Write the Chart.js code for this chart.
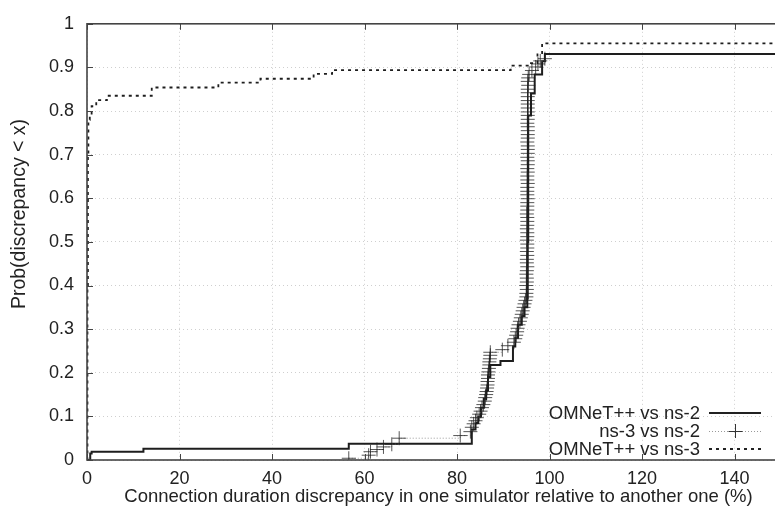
<!DOCTYPE html>
<html>
<head>
<meta charset="utf-8">
<script src="https://cdn.jsdelivr.net/npm/chart.js@4"></script>
<style>
html,body{margin:0;padding:0;background:#fff;overflow:hidden;width:775px;height:512px;}
canvas{display:block;}
</style>
</head>
<body>
<canvas id="c" width="800" height="512" style="width:800px;height:512px"></canvas>
<script>
// ---- data ----
const seriesNames = ["OMNeT++ vs ns-2", "ns-3 vs ns-2", "OMNeT++ vs ns-3"];
const xTitle = 'Connection duration discrepancy in one simulator relative to another one (%)';
const yTitle = 'Prob(discrepancy < x)';
const xTicks = [0, 20, 40, 60, 80, 100, 120, 140];
const yTicks = [0, 0.1, 0.2, 0.3, 0.4, 0.5, 0.6, 0.7, 0.8, 0.9, 1];

const omnetNs2X = [0, 0.7, 1.0, 12.2, 56.6, 83.2, 84.0, 84.6, 85.2, 85.8, 86.3, 86.7, 87.2, 89.4, 92.1, 92.6, 93.2, 94.0, 94.6, 95.2, 95.3, 95.4, 95.4, 96.0, 96.8, 98.4, 99.0, 152];
const omnetNs2Y = [0, 0.015, 0.019, 0.026, 0.0375, 0.07, 0.085, 0.10, 0.12, 0.14, 0.16, 0.19, 0.218, 0.227, 0.26, 0.28, 0.31, 0.33, 0.35, 0.37, 0.50, 0.65, 0.79, 0.84, 0.884, 0.914, 0.931, 0.931];

const ns3Ns2X = [56.6, 60.9, 61.3, 62.7, 64.1, 65.9, 67.5, 80.7, 82.9, 83.2, 83.6, 84.0, 84.3, 84.8, 85.1, 85.4, 85.7, 86.0, 86.1, 86.3, 86.4, 86.5, 86.6, 86.6, 86.7, 86.7, 86.8, 86.9, 87.0, 87.0, 87.1, 87.2, 87.2, 89.8, 91.0, 92.3, 92.6, 92.8, 93.0, 93.1, 93.3, 93.6, 93.8, 94.0, 94.2, 94.4, 94.6, 94.8, 95.0,
  95.0, 95.1, 95.0, 95.1, 95.1, 95.0, 95.1, 95.2, 95.1, 95.1, 95.2, 95.1, 95.2, 95.2, 95.1, 95.2, 95.2, 95.1, 95.2, 95.2, 95.2, 95.1, 95.2, 95.2, 95.2, 95.3, 95.2, 95.2, 95.2, 95.3, 95.2, 95.2, 95.3, 95.2, 95.3, 95.3, 95.2, 95.3, 95.3, 95.3, 95.2, 95.3, 95.3, 95.3, 95.3, 95.2, 95.3, 95.3, 95.3, 95.3, 95.3, 95.3, 95.3, 95.3, 95.3, 95.4, 95.3, 95.4,
  95.6, 96.2, 97.0, 97.5, 98.0, 99.0];
const ns3Ns2Y = [0.004, 0.011, 0.019, 0.024, 0.030, 0.036, 0.050, 0.056, 0.065, 0.075, 0.083, 0.090, 0.097, 0.105, 0.112, 0.120, 0.127, 0.135, 0.143, 0.150, 0.157, 0.165, 0.172, 0.180, 0.187, 0.195, 0.202, 0.210, 0.218, 0.225, 0.232, 0.240, 0.247, 0.253, 0.262, 0.270, 0.278, 0.286, 0.294, 0.302, 0.310, 0.318, 0.326, 0.334, 0.342, 0.350, 0.358, 0.366, 0.374,
  0.382, 0.391, 0.400, 0.408, 0.417, 0.426, 0.434, 0.443, 0.452, 0.460, 0.469, 0.478, 0.486, 0.495, 0.504, 0.512, 0.521, 0.530, 0.538, 0.547, 0.556, 0.564, 0.573, 0.582, 0.590, 0.599, 0.608, 0.616, 0.625, 0.634, 0.642, 0.651, 0.660, 0.668, 0.677, 0.686, 0.694, 0.703, 0.712, 0.720, 0.729, 0.738, 0.746, 0.755, 0.764, 0.772, 0.781, 0.790, 0.798, 0.807, 0.816, 0.824, 0.833, 0.842, 0.850, 0.859, 0.868, 0.876,
  0.884, 0.893, 0.901, 0.908, 0.915, 0.920];

const omnetNs3X = [0, 0.1, 0.2, 0.3, 0.6, 1.0, 2.0, 4.3, 13.0, 14.0, 28.4, 37.5, 49.0, 53.0, 91.6, 92.0, 95.5, 97.4, 98.4, 152];
const omnetNs3Y = [0, 0.40, 0.70, 0.78, 0.79, 0.811, 0.825, 0.835, 0.835, 0.854, 0.865, 0.874, 0.885, 0.894, 0.895, 0.904, 0.91, 0.93, 0.955, 0.955];

const toPts = (xs, ys) => xs.map((x, i) => ({x: x, y: ys[i]}));

const FONT = "'Liberation Sans', Arial, Helvetica, sans-serif";
const TXT = '#222';

const frameAndLegend = {
  id: 'frameAndLegend',
  afterDraw(chart) {
    const ctx = chart.ctx;
    const a = chart.chartArea;
    const xs = chart.scales.x, ys = chart.scales.y;
    ctx.save();
    // inward tick marks
    ctx.strokeStyle = '#444';
    ctx.lineWidth = 1;
    ctx.beginPath();
    xTicks.forEach(v => {
      const px = Math.round(xs.getPixelForValue(v)) + 0.5;
      ctx.moveTo(px, a.bottom); ctx.lineTo(px, a.bottom - 6);
      ctx.moveTo(px, a.top); ctx.lineTo(px, a.top + 6);
    });
    yTicks.forEach(v => {
      const py = Math.round(ys.getPixelForValue(v)) + 0.5;
      ctx.moveTo(a.left, py); ctx.lineTo(a.left + 6, py);
    });
    ctx.stroke();
    // frame
    ctx.strokeStyle = '#444';
    ctx.lineWidth = 1.6;
    ctx.strokeRect(a.left, a.top, a.right - a.left, a.bottom - a.top);

    // y axis title (placed like the reference, slightly above centre)
    ctx.save();
    ctx.translate(20, 214);
    ctx.rotate(-Math.PI / 2);
    ctx.font = '19.5px ' + FONT;
    ctx.fillStyle = TXT;
    ctx.textAlign = 'center';
    ctx.textBaseline = 'middle';
    ctx.fillText(yTitle, 0, 0);
    ctx.restore();

    // legend
    ctx.font = '18.5px ' + FONT;
    ctx.fillStyle = TXT;
    ctx.textAlign = 'right';
    ctx.textBaseline = 'middle';
    const rows = [413, 431, 449];
    const textRight = 700;
    const lx0 = 709, lx1 = 761;
    seriesNames.forEach((n, i) => ctx.fillText(n, textRight, rows[i] + 1));
    // solid sample
    ctx.strokeStyle = '#222'; ctx.lineWidth = 2; ctx.setLineDash([]);
    ctx.beginPath(); ctx.moveTo(lx0, rows[0]); ctx.lineTo(lx1, rows[0]); ctx.stroke();
    // dotted + marker sample
    ctx.strokeStyle = '#999'; ctx.lineWidth = 1; ctx.setLineDash([1, 2]);
    ctx.beginPath(); ctx.moveTo(lx0, rows[1] + 0.5); ctx.lineTo(lx1, rows[1] + 0.5); ctx.stroke();
    ctx.setLineDash([]); ctx.strokeStyle = '#333';
    const mx = Math.round((lx0 + lx1) / 2) + 0.5;
    ctx.beginPath(); ctx.moveTo(mx - 7, rows[1] + 0.5); ctx.lineTo(mx + 7, rows[1] + 0.5);
    ctx.moveTo(mx, rows[1] - 7); ctx.lineTo(mx, rows[1] + 7); ctx.stroke();
    // dashed sample
    ctx.strokeStyle = '#222'; ctx.lineWidth = 1.8; ctx.setLineDash([3, 4]);
    ctx.beginPath(); ctx.moveTo(lx0, rows[2]); ctx.lineTo(lx1, rows[2]); ctx.stroke();
    ctx.restore();
  }
};

new Chart(document.getElementById('c'), {
  type: 'line',
  data: {
    datasets: [
      {
        label: seriesNames[1],
        data: toPts(ns3Ns2X, ns3Ns2Y),
        stepped: 'before',
        borderColor: '#9a9a9a',
        borderWidth: 1,
        borderDash: [1, 2],
        pointStyle: 'cross',
        pointRadius: 7,
        pointBorderWidth: 1,
        pointBorderColor: 'rgba(30,30,30,0.75)',
        pointBackgroundColor: 'rgba(0,0,0,0)',
        fill: false
      },
      {
        label: seriesNames[2],
        data: toPts(omnetNs3X, omnetNs3Y),
        stepped: 'before',
        borderColor: '#1e1e1e',
        borderWidth: 1.8,
        borderDash: [3, 4],
        pointRadius: 0,
        fill: false
      },
      {
        label: seriesNames[0],
        data: toPts(omnetNs2X, omnetNs2Y),
        stepped: 'before',
        borderColor: '#1e1e1e',
        borderWidth: 2,
        pointRadius: 0,
        fill: false
      }
    ]
  },
  options: {
    responsive: false,
    animation: false,
    events: [],
    layout: {padding: {left: 0, top: 15, right: 10, bottom: 0}},
    plugins: {legend: {display: false}, tooltip: {enabled: false}},
    scales: {
      x: {
        type: 'linear',
        min: 0, max: 152,
        afterFit: s => { s.height = 52; },
        afterBuildTicks: s => { s.ticks = xTicks.map(v => ({value: v})); },
        ticks: {color: TXT, font: {family: FONT, size: 18}, padding: 8, maxRotation: 0},
        grid: {color: '#cfcfcf', lineWidth: 1, drawTicks: false},
        border: {display: false, dash: [1, 3]},
        title: {display: true, text: xTitle, color: TXT, font: {family: FONT, size: 18.5}, padding: {top: 0, bottom: 4}}
      },
      y: {
        type: 'linear',
        min: 0, max: 1,
        afterFit: s => { s.width = 87; },
        afterBuildTicks: s => { s.ticks = yTicks.map(v => ({value: v})); },
        ticks: {color: TXT, font: {family: FONT, size: 18}, padding: 13, callback: v => String(Math.round(v * 10) / 10)},
        grid: {color: '#cfcfcf', lineWidth: 1, drawTicks: false},
        border: {display: false, dash: [1, 3]},
        title: {display: false}
      }
    }
  },
  plugins: [frameAndLegend]
});
</script>
</body>
</html>
